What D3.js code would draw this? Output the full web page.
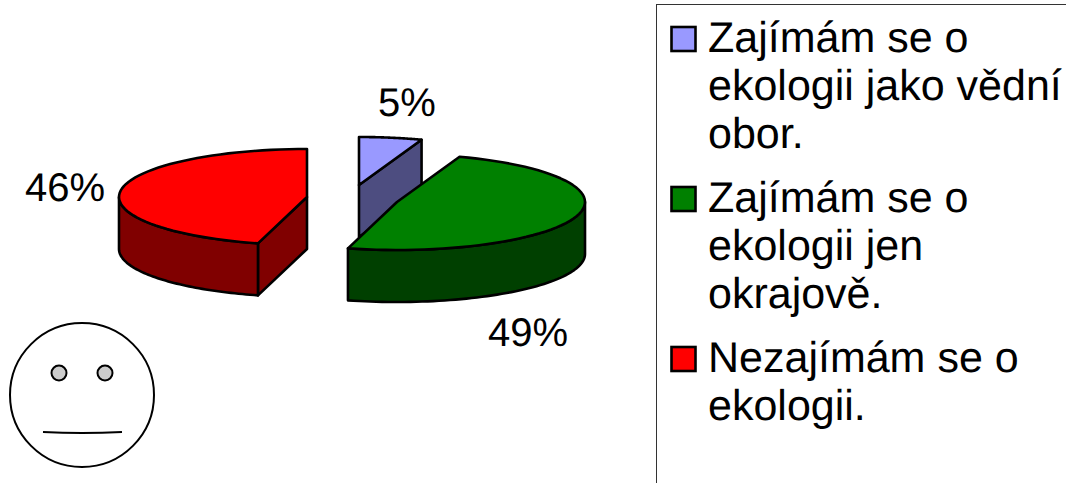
<!DOCTYPE html>
<html>
<head>
<meta charset="utf-8">
<script src="https://cdn.jsdelivr.net/npm/d3@7"></script>
<style>
  html, body { margin: 0; background: #fff; overflow: hidden; }
  svg { display: block; }
  text { font-family: "Liberation Sans", Arial, sans-serif; fill: #000; text-rendering: geometricPrecision; }
</style>
</head>
<body>
<svg width="1066" height="483"></svg>
<script>
const values = [5.4, 48.8, 45.8];
const topColors = ["#9999ff", "#008000", "#ff0000"];
const sideColors = ["#4d4d80", "#004000", "#800000"];
const centers = [[359, 185], [397, 202], [307, 197]];
const labelPos = [[407, 116], [528, 346], [65, 201]];
const legendLines = [
    ["Zajímám se o", "ekologii jako vědní", "obor."],
    ["Zajímám se o", "ekologii jen", "okrajově."],
    ["Nezajímám se o", "ekologii."]
];
const legendBaselines = [52, 212, 372];

const svg = d3.select("svg");
const RX = 188, RY = 48, DEPTH = 52;
const LINE_H = 48;

const pie = d3.pie().sort(null)(values);
const total = d3.sum(values);

// ellipse point for a pie angle (0 = up, clockwise)
function pt(c, a, dy = 0) {
    return [c[0] + Math.sin(a) * RX, c[1] - Math.cos(a) * RY + dy];
}

const line = d3.line();

function arcPts(c, a0, a1, dy = 0) {
    return d3.range(0, 61).map(i => pt(c, a0 + (a1 - a0) * i / 60, dy));
}

const pieGroup = svg.append("g")
    .attr("stroke", "#000")
    .attr("stroke-width", 2.6)
    .attr("stroke-linejoin", "round");

// blue first, then red, green on top
[0, 2, 1].forEach(i => {
    const d = pie[i], c = centers[i];
    const side = sideColors[i];

    // straight wall from the centre out to the end of the arc that faces us
    const wallA = i === 0 ? d.endAngle : (i === 2 ? d.startAngle : null);
    if (wallA !== null) {
        const p = pt(c, wallA);
        pieGroup.append("path")
            .attr("fill", side)
            .attr("d", line([c, p, [p[0], p[1] + DEPTH], [c[0], c[1] + DEPTH]]) + "Z");
    }

    // outer wall, only the part on the front half of the ellipse
    const a0 = Math.max(d.startAngle, Math.PI / 2);
    const a1 = Math.min(d.endAngle, Math.PI * 1.5);
    if (a1 > a0) {
        pieGroup.append("path")
            .attr("fill", side)
            .attr("d", line(arcPts(c, a0, a1).concat(arcPts(c, a1, a0, DEPTH))) + "Z");
    }

    // top face
    pieGroup.append("path")
        .attr("fill", topColors[i])
        .attr("d", line([c].concat(arcPts(c, d.startAngle, d.endAngle))) + "Z");
});

svg.append("g").selectAll("text")
    .data(values)
    .enter()
    .append("text")
    .attr("x", (d, i) => labelPos[i][0])
    .attr("y", (d, i) => labelPos[i][1])
    .attr("text-anchor", "middle")
    .attr("font-size", 40)
    .text(d => Math.round(d / total * 100) + "%");

// legend frame runs off the right and bottom of the picture
svg.append("rect")
    .attr("x", 656.5).attr("y", 4.5)
    .attr("width", 420).attr("height", 500)
    .attr("fill", "none")
    .attr("stroke", "#333")
    .attr("stroke-width", 1);

const legend = svg.append("g");
legendLines.forEach((lines, i) => {
    const base = legendBaselines[i];
    legend.append("rect")
        .attr("x", 671.5).attr("y", base - 25)
        .attr("width", 24).attr("height", 24)
        .attr("fill", topColors[i])
        .attr("stroke", "#000")
        .attr("stroke-width", 2.6);
    lines.forEach((t, j) => {
        legend.append("text")
            .attr("x", 708)
            .attr("y", base + j * LINE_H)
            .attr("font-size", 43)
            .text(t);
    });
});

// smiley
const face = svg.append("g").attr("stroke", "#000");
face.append("circle")
    .attr("cx", 82).attr("cy", 395).attr("r", 72)
    .attr("fill", "#fff").attr("stroke-width", 2);
[59, 105].forEach(x => {
    face.append("circle")
        .attr("cx", x).attr("cy", 373).attr("r", 7.5)
        .attr("fill", "#cccccc").attr("stroke-width", 2);
});
face.append("path")
    .attr("d", "M43,432Q82,434 122,432")
    .attr("fill", "none")
    .attr("stroke-width", 2);
</script>
</body>
</html>
